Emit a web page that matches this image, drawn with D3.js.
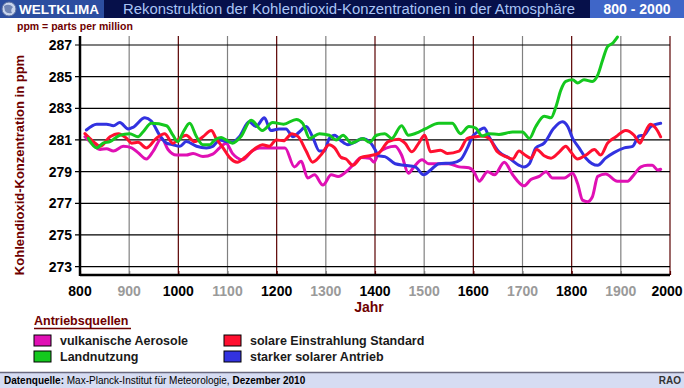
<!DOCTYPE html>
<html>
<head>
<meta charset="utf-8">
<script src="https://cdnjs.cloudflare.com/ajax/libs/d3/7.8.5/d3.min.js"></script>
<style>
  body { margin: 0; background: #ffffff; }
  svg { display: block; font-family: Arial, "Liberation Sans", sans-serif; }
</style>
</head>
<body>
<script>

// data: [year, ppm]
var vulkanisch = [[810, 281.2], [827, 280.7], [841, 280.4], [854, 280.45], [868, 280.3],
  [888, 280.6], [905, 280.5], [918, 280.2], [935, 279.8], [949, 280.3], [966, 281.1],
  [979, 280.4], [996, 280.05], [1016, 280.05], [1030, 280.15], [1050, 279.95], [1070, 280.1],
  [1084, 280.5], [1097, 280.8], [1110, 280.15], [1131, 279.75], [1150, 280.3], [1165, 280.5],
  [1192, 280.5], [1217, 280.5], [1236, 279.3], [1250, 279.65], [1263, 278.6], [1277, 278.8],
  [1294, 278.15], [1311, 278.8], [1325, 278.7], [1345, 279.1], [1358, 279.5], [1372, 279.9],
  [1389, 279.85], [1398, 279.6], [1407, 280.15], [1424, 280.5], [1441, 280.6], [1454, 280.05],
  [1468, 278.9], [1479, 279.3], [1496, 279.75], [1509, 279.5], [1530, 279.5], [1550, 279.5],
  [1571, 279.3], [1591, 279.25], [1601, 279.0], [1612, 278.4], [1629, 279.0], [1643, 278.8],
  [1663, 279.6], [1680, 278.8], [1703, 278.1], [1717, 278.5], [1734, 278.7], [1748, 279.0],
  [1761, 278.6], [1785, 278.6], [1802, 278.9], [1812, 278.25], [1822, 277.2], [1832, 277.1],
  [1842, 277.4], [1853, 278.7], [1869, 278.85], [1893, 278.4], [1914, 278.4], [1924, 278.7],
  [1941, 279.3], [1954, 279.4], [1964, 279.4], [1975, 279.1], [1981, 279.15]];

var landnutzung = [[817, 281.1], [834, 280.5], [847, 280.8], [861, 280.9], [881, 281.3],
  [901, 281.4], [918, 281.2], [928, 281.5], [945, 282.05], [976, 281.9], [989, 281.3],
  [999, 280.9], [1010, 281.5], [1023, 282.05], [1037, 281.2], [1050, 280.7], [1064, 280.7],
  [1074, 281.0], [1087, 281.15], [1097, 281.0], [1110, 280.8], [1127, 281.2], [1148, 282.25],
  [1171, 281.6], [1192, 282.1], [1214, 282.0], [1240, 282.3], [1253, 282.05], [1267, 281.1],
  [1287, 281.4], [1307, 281.3], [1321, 281.0], [1335, 281.3], [1352, 280.8], [1375, 281.1],
  [1389, 280.85], [1403, 281.3], [1420, 281.4], [1434, 281.1], [1454, 281.9], [1468, 281.3],
  [1489, 281.5], [1502, 281.7], [1530, 282.05], [1557, 282.05], [1574, 281.4], [1591, 281.85],
  [1605, 281.75], [1618, 281.25], [1632, 281.4], [1652, 281.35], [1680, 281.5], [1700, 281.5],
  [1714, 281.1], [1727, 281.85], [1744, 282.5], [1758, 282.4], [1768, 283.1], [1778, 284.15],
  [1788, 284.7], [1802, 284.8], [1812, 284.6], [1825, 284.8], [1842, 284.7], [1853, 285.1],
  [1863, 286.05], [1873, 286.9], [1883, 287.1], [1893, 287.5]];

var solarStandard = [[810, 281.4], [827, 280.9], [841, 280.6], [861, 281.2], [878, 281.4],
  [895, 281.1], [905, 280.8], [918, 280.85], [935, 280.5], [955, 281.1], [972, 281.4],
  [989, 280.8], [1003, 281.1], [1016, 281.3], [1033, 280.9], [1050, 281.2], [1067, 281.6],
  [1077, 281.1], [1091, 280.5], [1104, 279.9], [1120, 279.6], [1137, 279.95], [1158, 280.5],
  [1171, 280.7], [1185, 280.6], [1199, 281.0], [1214, 280.95], [1231, 281.4], [1244, 281.2],
  [1260, 280.3], [1273, 279.6], [1290, 280.05], [1307, 280.7], [1318, 280.5], [1331, 279.9],
  [1341, 279.8], [1355, 279.4], [1372, 279.9], [1389, 280.0], [1407, 280.15], [1427, 280.9],
  [1448, 281.05], [1461, 280.8], [1475, 280.25], [1489, 280.8], [1501, 281.3], [1513, 280.25],
  [1533, 280.35], [1547, 280.15], [1571, 280.3], [1588, 281.1], [1605, 281.2], [1618, 281.25],
  [1632, 281.1], [1649, 280.25], [1666, 279.95], [1680, 279.8], [1693, 280.3], [1703, 280.1],
  [1717, 279.85], [1729, 280.4], [1744, 280.0], [1758, 279.85], [1775, 280.25], [1788, 280.6],
  [1798, 280.25], [1812, 279.8], [1829, 280.05], [1846, 280.4], [1859, 280.05], [1873, 280.8],
  [1890, 281.2], [1910, 281.6], [1927, 281.3], [1939, 280.8], [1947, 281.3], [1960, 282.0],
  [1971, 281.75], [1981, 281.2]];

var solarStark = [[813, 281.63], [834, 282.0], [854, 282.0], [868, 281.9], [881, 282.1],
  [898, 281.7], [908, 281.8], [932, 282.4], [945, 282.2], [962, 281.3], [976, 280.8],
  [989, 280.7], [1003, 280.6], [1016, 280.9], [1037, 280.6], [1057, 280.5], [1070, 280.6],
  [1084, 281.0], [1097, 280.9], [1110, 280.85], [1124, 281.2], [1144, 282.15], [1158, 281.85],
  [1175, 282.4], [1188, 281.6], [1205, 281.7], [1219, 281.7], [1233, 281.2], [1246, 281.5],
  [1260, 281.85], [1273, 281.2], [1287, 280.3], [1297, 280.3], [1307, 281.1], [1318, 281.3],
  [1331, 280.95], [1345, 280.7], [1358, 280.85], [1375, 281.1], [1389, 280.9], [1400, 280.4],
  [1407, 280.0], [1420, 279.95], [1441, 279.5], [1461, 279.4], [1482, 279.3], [1499, 278.8],
  [1513, 279.1], [1530, 279.5], [1557, 279.55], [1574, 279.75], [1588, 280.5], [1598, 281.2],
  [1608, 281.5], [1622, 281.75], [1632, 281.2], [1652, 280.25], [1673, 279.85], [1693, 279.4],
  [1703, 279.3], [1714, 279.5], [1727, 280.5], [1744, 280.8], [1764, 281.75], [1781, 282.15],
  [1792, 281.85], [1802, 281.1], [1815, 280.5], [1829, 279.85], [1853, 279.4], [1869, 279.85],
  [1886, 280.2], [1907, 280.5], [1924, 280.6], [1937, 281.25], [1947, 281.3], [1961, 281.85],
  [1981, 282.05]];

// axis ticks
var xTicks = [800, 900, 1000, 1100, 1200, 1300, 1400, 1500, 1600, 1700, 1800, 1900, 2000];
var yTicks = [273, 275, 277, 279, 281, 283, 285, 287];

// legend entries, same order as the series
var seriesNames = ["vulkanische Aerosole", "Landnutzung", "solare Einstrahlung Standard", "starker solarer Antrieb"];

// size and colours
var w = 684;
var h = 388;
var plotLeft = 80;
var plotRight = 670;
var plotTop = 36;
var plotBottom = 275;
var darkRed = "#6e0000";
var colors = ["#e010b4", "#14c81e", "#ff1030", "#3232e0"];
var allSeries = [vulkanisch, landnutzung, solarStandard, solarStark];

var xScale = d3.scaleLinear()
               .domain([800, 2000])
               .range([plotLeft, plotRight]);

var yScale = d3.scaleLinear()
               .domain([273, 287])
               .range([266.6, 45]);

var svg = d3.select("body")
            .append("svg")
            .attr("width", w)
            .attr("height", h);

// header bar
svg.append("rect")
   .attr("x", 0).attr("y", 0)
   .attr("width", w).attr("height", 18)
   .attr("fill", "#06104a");

svg.append("rect")
   .attr("x", 0).attr("y", 0)
   .attr("width", 104).attr("height", 18)
   .attr("fill", "#2c4ea0");

svg.append("rect")
   .attr("x", 590).attr("y", 0)
   .attr("width", 94).attr("height", 18)
   .attr("fill", "#3f66c8");

// little globe
svg.append("circle")
   .attr("cx", 9).attr("cy", 9).attr("r", 7)
   .attr("fill", "#c8d4ec")
   .attr("stroke", "#5a6e9e");
svg.append("path")
   .attr("d", "M4,6 Q9,3 13,7 Q10,10 12,13 Q7,14 5,11 Z")
   .attr("fill", "#6f84b4");

svg.append("text")
   .attr("x", 19).attr("y", 14)
   .attr("fill", "#ffffff")
   .style("font-size", "13.5px")
   .style("font-weight", "bold")
   .text("WELTKLIMA");

svg.append("text")
   .attr("x", 123).attr("y", 14)
   .attr("fill", "#a9c4f5")
   .attr("textLength", 452)
   .attr("lengthAdjust", "spacingAndGlyphs")
   .style("font-size", "14px")
   .text("Rekonstruktion der Kohlendioxid-Konzentrationen in der Atmosphäre");

svg.append("text")
   .attr("x", 637).attr("y", 14)
   .attr("fill", "#ffffff")
   .style("text-anchor", "middle")
   .style("font-size", "14px")
   .style("font-weight", "bold")
   .text("800 - 2000");

svg.append("text")
   .attr("x", 17).attr("y", 30)
   .attr("fill", darkRed)
   .style("font-size", "10.5px")
   .style("font-weight", "bold")
   .text("ppm = parts per million");

// vertical grid lines
svg.selectAll(".vgrid")
   .data(xTicks.slice(1))
   .enter()
   .append("line")
   .attr("class", "vgrid")
   .attr("x1", function(d) { return xScale(d); })
   .attr("x2", function(d) { return xScale(d); })
   .attr("y1", plotTop)
   .attr("y2", plotBottom)
   .attr("stroke", function(d) { return d % 200 == 0 ? "#5a0000" : "#808080"; })
   .attr("stroke-width", 1.2);

// horizontal grid lines
svg.selectAll(".hgrid")
   .data(yTicks)
   .enter()
   .append("line")
   .attr("class", "hgrid")
   .attr("x1", plotLeft - 5)
   .attr("x2", plotRight)
   .attr("y1", function(d) { return yScale(d); })
   .attr("y2", function(d) { return yScale(d); })
   .attr("stroke", "#000000")
   .attr("stroke-width", 1.2);

// y axis labels
svg.selectAll(".ylab")
   .data(yTicks)
   .enter()
   .append("text")
   .attr("class", "ylab")
   .attr("x", 72)
   .attr("y", function(d) { return yScale(d) + 5; })
   .style("text-anchor", "end")
   .style("font-size", "14px")
   .style("font-weight", "bold")
   .attr("fill", "#000000")
   .text(function(d) { return d; });

// x axis with ticks
var xAxis = d3.axisBottom(xScale)
              .tickValues(xTicks)
              .tickSize(4)
              .tickFormat("");

svg.append("g")
   .attr("transform", "translate(0," + (plotBottom - 4) + ")")
   .call(xAxis)
   .call(function(g) { g.select(".domain").remove(); })
   .selectAll("line")
   .attr("stroke", function(d) { return d % 200 == 0 ? "#5a0000" : "#808080"; })
   .attr("stroke-width", 1.2);

svg.selectAll(".xlab")
   .data(xTicks)
   .enter()
   .append("text")
   .attr("class", "xlab")
   .attr("x", function(d) { return d == 2000 ? xScale(d) - 3 : xScale(d); })
   .attr("y", 296)
   .style("text-anchor", "middle")
   .style("font-size", "14px")
   .style("font-weight", "bold")
   .attr("fill", function(d) { return d % 200 == 0 ? "#000000" : "#9a9a9a"; })
   .text(function(d) { return d; });

// axis lines
svg.append("line")
   .attr("x1", plotLeft).attr("x2", plotLeft)
   .attr("y1", plotTop).attr("y2", plotBottom + 1)
   .attr("stroke", "#000000")
   .attr("stroke-width", 2.5);

svg.append("line")
   .attr("x1", plotLeft).attr("x2", plotRight)
   .attr("y1", plotBottom).attr("y2", plotBottom)
   .attr("stroke", "#000000")
   .attr("stroke-width", 2.5);

// axis titles
svg.append("text")
   .attr("transform", "translate(24," + 165 + ") rotate(-90)")
   .style("text-anchor", "middle")
   .style("font-size", "13px")
   .style("font-weight", "bold")
   .attr("fill", darkRed)
   .text("Kohlendioxid-Konzentration in ppm");

svg.append("text")
   .attr("x", 369).attr("y", 312)
   .style("text-anchor", "middle")
   .style("font-size", "14px")
   .style("font-weight", "bold")
   .attr("fill", darkRed)
   .text("Jahr");

// the four lines, drawn magenta, blue, red, green
var line = d3.line()
             .x(function(d) { return xScale(d[0]); })
             .y(function(d) { return yScale(d[1]); })
             .curve(d3.curveMonotoneX);

var order = [0, 3, 2, 1];
for (var i = 0; i < order.length; i++) {
  svg.append("path")
     .datum(allSeries[order[i]])
     .attr("d", line)
     .attr("fill", "none")
     .attr("stroke", colors[order[i]])
     .attr("stroke-width", 3)
     .attr("stroke-linejoin", "round")
     .attr("stroke-linecap", "round");
}

// legend
svg.append("text")
   .attr("x", 34).attr("y", 325)
   .style("font-size", "12.5px")
   .style("font-weight", "bold")
   .attr("fill", darkRed)
   .text("Antriebsquellen");

svg.append("line")
   .attr("x1", 34).attr("x2", 131)
   .attr("y1", 328.5).attr("y2", 328.5)
   .attr("stroke", darkRed)
   .attr("stroke-width", 1.5);

var legX = [34, 34, 224, 224];
var legY = [335, 351, 335, 351];

for (var n = 0; n < seriesNames.length; n++) {
  svg.append("rect")
     .attr("x", legX[n]).attr("y", legY[n])
     .attr("width", 17).attr("height", 11)
     .attr("fill", colors[n])
     .attr("stroke", "#000000")
     .attr("stroke-width", 1);
  svg.append("text")
     .attr("x", legX[n] + 26).attr("y", legY[n] + 10)
     .style("font-size", "12.5px")
     .style("font-weight", "bold")
     .attr("fill", "#1a1a1a")
     .text(seriesNames[n]);
}

// footer
svg.append("rect")
   .attr("x", 0).attr("y", 372)
   .attr("width", w).attr("height", 16)
   .attr("fill", "#d6dcf2");
svg.append("line")
   .attr("x1", 0).attr("x2", w)
   .attr("y1", 372.5).attr("y2", 372.5)
   .attr("stroke", "#6a6a80")
   .attr("stroke-width", 1.5);

var foot = svg.append("text")
              .attr("x", 4).attr("y", 384)
              .style("font-size", "10px")
              .attr("fill", "#000000");
foot.append("tspan").style("font-weight", "bold").text("Datenquelle:");
foot.append("tspan").text(" Max-Planck-Institut für Meteorologie,");
foot.append("tspan").style("font-weight", "bold").text("  Dezember 2010");

svg.append("text")
   .attr("x", 681).attr("y", 384)
   .style("text-anchor", "end")
   .style("font-size", "10px")
   .style("font-weight", "bold")
   .attr("fill", "#333333")
   .text("RAO");

</script>
</body>
</html>
